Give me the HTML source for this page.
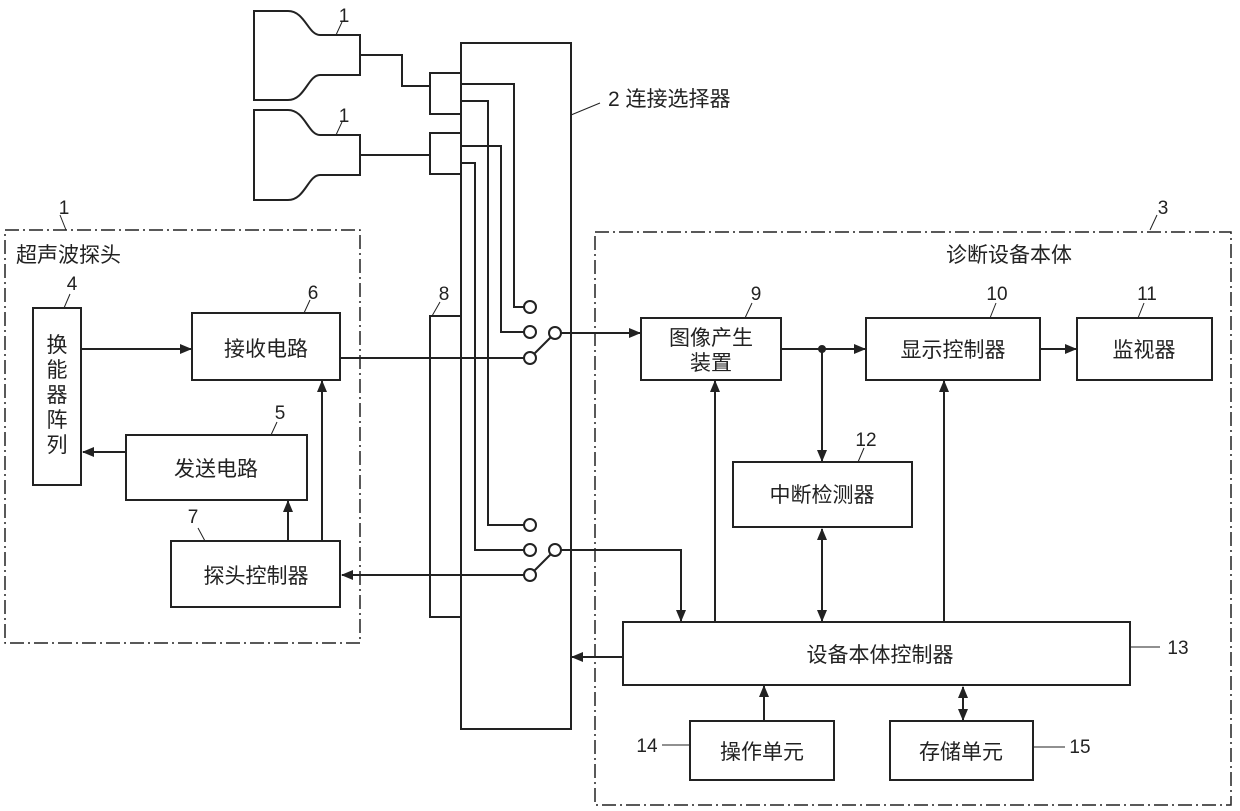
<!DOCTYPE html>
<html><head><meta charset="utf-8"><style>
html,body{margin:0;padding:0;background:#fff}
svg{display:block}
text{font-family:"Liberation Sans","Noto Sans CJK SC",sans-serif;fill:#222}
.c{font-size:21px;text-anchor:middle}
.n{font-size:19px;text-anchor:middle}
</style></head><body>
<svg width="1240" height="811" viewBox="0 0 1240 811" xmlns="http://www.w3.org/2000/svg">
<defs><marker id="a" markerWidth="12" markerHeight="10" refX="11" refY="5" orient="auto" markerUnits="userSpaceOnUse"><path d="M0,0 L12,5 L0,10 z" fill="#222"/></marker>
<marker id="b" markerWidth="12" markerHeight="10" refX="1" refY="5" orient="auto" markerUnits="userSpaceOnUse"><path d="M12,0 L0,5 L12,10 z" fill="#222"/></marker></defs>
<g fill="none" stroke="#222" stroke-width="2">
<path d="M254,11 H288 C305,11 308,35 320,35 H360 V75 H320 C308,75 305,100 288,100 H254 Z"/>
<path d="M254,110 H288 C305,110 308,135 320,135 H360 V175 H320 C308,175 305,200 288,200 H254 Z"/>
<path d="M360,55 H402 V86 H430"/>
<path d="M360,155 H430"/>
<rect x="430" y="73" width="31" height="41"/>
<rect x="430" y="133" width="31" height="41"/>
<rect x="461" y="43" width="110" height="686"/>
<rect x="430" y="316" width="31" height="301"/>
<path d="M461,84 H514 V307 H524"/>
<path d="M461,101 H488 V525 H524"/>
<path d="M461,146 H501 V332 H524"/>
<path d="M461,163 H475 V550 H524"/>
<circle cx="530" cy="307" r="6"/><circle cx="530" cy="332" r="6"/><circle cx="530" cy="358" r="6"/><circle cx="555" cy="333" r="6"/>
<circle cx="530" cy="525" r="6"/><circle cx="530" cy="550" r="6"/><circle cx="530" cy="575" r="6"/><circle cx="555" cy="550" r="6"/>
<path d="M534,354 L551,337"/><path d="M534,571 L551,554"/>
<rect x="5" y="230" width="355" height="413" stroke-width="1.5" stroke-dasharray="14,4,2,4"/>
<rect x="595" y="232" width="636" height="573" stroke-width="1.5" stroke-dasharray="14,4,2,4"/>
<rect x="33" y="308" width="48" height="177"/>
<rect x="192" y="313" width="148" height="67"/>
<rect x="126" y="435" width="181" height="65"/>
<rect x="171" y="541" width="169" height="66"/>
<rect x="641" y="318" width="140" height="62"/>
<rect x="866" y="318" width="174" height="62"/>
<rect x="1077" y="318" width="135" height="62"/>
<rect x="733" y="462" width="179" height="65"/>
<rect x="623" y="622" width="507" height="63"/>
<rect x="690" y="721" width="144" height="59"/>
<rect x="890" y="721" width="143" height="59"/>
<path d="M81,349 H191" marker-end="url(#a)"/>
<path d="M126,452 H83" marker-end="url(#a)"/>
<path d="M288,541 V501" marker-end="url(#a)"/>
<path d="M322,541 V381" marker-end="url(#a)"/>
<path d="M340,358 H524"/>
<path d="M524,575 H342" marker-end="url(#a)"/>
<path d="M561,333 H640" marker-end="url(#a)"/>
<path d="M561,550 H681 V621" marker-end="url(#a)"/>
<path d="M781,349 H865" marker-end="url(#a)"/>
<path d="M822,349 V461" marker-end="url(#a)"/>
<path d="M1040,349 H1076" marker-end="url(#a)"/>
<path d="M822,529 V621" marker-start="url(#b)" marker-end="url(#a)"/>
<path d="M715,622 V381" marker-end="url(#a)"/>
<path d="M944,622 V381" marker-end="url(#a)"/>
<path d="M623,657 H572" marker-end="url(#a)"/>
<path d="M764,721 V686" marker-end="url(#a)"/>
<path d="M963,720 V687" marker-start="url(#b)" marker-end="url(#a)"/>
<g stroke-width="1"><path d="M336,35 L342,22"/><path d="M336,135 L342,122"/><path d="M571,115 L600,103"/>
<path d="M66,230 L60,215"/><path d="M1150,230 L1157,215"/>
<path d="M64,308 L70,294"/><path d="M304,313 L310,300"/><path d="M432,316 L440,302"/>
<path d="M745,318 L752,303"/><path d="M990,318 L996,303"/><path d="M1138,318 L1144,303"/>
<path d="M858,462 L864,448"/><path d="M271,435 L277,422"/><path d="M205,541 L198,528"/>
<path d="M1130,647 L1160,647"/><path d="M662,745 L690,745"/><path d="M1033,747 L1065,747"/></g>
<circle cx="822" cy="349" r="3" fill="#222"/>
</g>
<text class="n" x="344" y="22">1</text>
<text class="n" x="344" y="122">1</text>
<text x="608" y="106" style="font-size:21px">2 连接选择器</text>
<text class="n" x="64" y="214">1</text>
<text class="n" x="1163" y="214">3</text>
<text x="16" y="262" style="font-size:21px">超声波探头</text>
<text x="946" y="262" style="font-size:21px">诊断设备本体</text>
<text class="n" x="72" y="290">4</text>
<text class="n" x="313" y="299">6</text>
<text class="n" x="444" y="300">8</text>
<text class="n" x="756" y="300">9</text>
<text class="n" x="997" y="300">10</text>
<text class="n" x="1147" y="300">11</text>
<text class="n" x="866" y="446">12</text>
<text class="n" x="280" y="419">5</text>
<text class="n" x="193" y="523">7</text>
<text class="n" x="1178" y="654">13</text>
<text class="n" x="647" y="752">14</text>
<text class="n" x="1080" y="753">15</text>
<text class="c" x="57" y="352">换</text><text class="c" x="57" y="377">能</text><text class="c" x="57" y="402">器</text><text class="c" x="57" y="427">阵</text><text class="c" x="57" y="452">列</text>
<text class="c" x="266" y="356">接收电路</text>
<text class="c" x="216" y="476">发送电路</text>
<text class="c" x="256" y="583">探头控制器</text>
<text class="c" x="711" y="345">图像产生</text>
<text class="c" x="711" y="370">装置</text>
<text class="c" x="953" y="357">显示控制器</text>
<text class="c" x="1144" y="357">监视器</text>
<text class="c" x="822" y="502">中断检测器</text>
<text class="c" x="880" y="662">设备本体控制器</text>
<text class="c" x="762" y="759">操作单元</text>
<text class="c" x="961" y="759">存储单元</text>
</svg>
</body></html>
